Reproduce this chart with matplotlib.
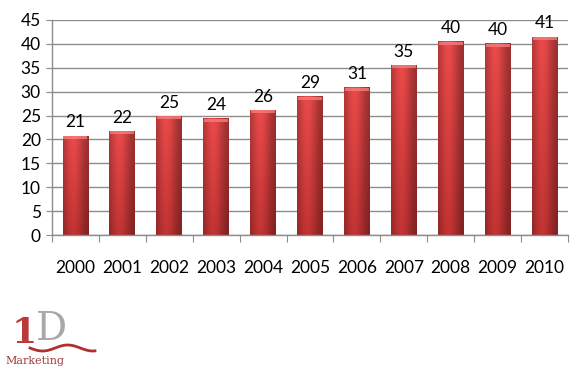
import numpy as np
import matplotlib
matplotlib.use("Agg")
import matplotlib.pyplot as plt

years = ["2000", "2001", "2002", "2003", "2004", "2005", "2006", "2007", "2008", "2009", "2010"]
values = [20.7, 21.7, 24.8, 24.3, 26.1, 28.9, 30.8, 35.5, 40.4, 40.0, 41.4]
labels = ["21", "22", "25", "24", "26", "29", "31", "35", "40", "40", "41"]

plt.rcParams['font.family'] = ['Lato', 'DejaVu Sans']

fig = plt.figure(figsize=(5.84, 3.73), dpi=100)
ax = fig.add_axes([52/584, 1-235/373, (568-52)/584, (235-20)/373])

n = len(years)
ax.set_yticks(np.arange(0, 46, 5))
ax.yaxis.grid(True, color="#8c8c8c", lw=1.0)
ax.set_axisbelow(True)
for s in ["top", "right"]:
    ax.spines[s].set_visible(False)
for s in ["left", "bottom"]:
    ax.spines[s].set_color("#8c8c8c")
    ax.spines[s].set_linewidth(1.0)

ax.set_xticks(np.arange(0, n + 1))
ax.set_xticklabels([])
ax.set_xticks(np.arange(n) + 0.5, minor=True)
ax.set_xticklabels(years, minor=True, fontsize=12.5)
ax.tick_params(axis="x", which="major", length=5, color="#8c8c8c", direction="out")
ax.tick_params(axis="x", which="minor", length=0, pad=18)
ax.tick_params(axis="y", length=4, color="#8c8c8c", labelsize=12.5, pad=4)

# gradient image for bars
w = 64
h = 256
xs = np.linspace(0, 1, w)
prof = 0.62 + 0.38 * np.exp(-((xs - 0.40) / 0.40) ** 2)
base_top = np.array([0.92, 0.29, 0.29])
base_bot = np.array([0.76, 0.20, 0.20])
ys = np.linspace(0, 1, h)[:, None]
base = base_top[None, None, :] * (1 - ys[..., None]) + base_bot[None, None, :] * ys[..., None]
img = np.clip(base * prof[None, :, None], 0, 1)

bw = 0.55
for i, v in enumerate(values):
    x0 = i + 0.5 - bw / 2
    ax.imshow(img, extent=[x0, x0 + bw, 0, v], aspect="auto", zorder=2, interpolation="bilinear")
    bev = 0.6
    top = np.clip(np.array([0.95, 0.45, 0.45])[None, None, :] * (0.85 + 0.15 * prof[None, :, None]) * np.ones((4, w, 1)), 0, 1)
    ax.imshow(top, extent=[x0 + 0.02, x0 + bw - 0.02, v - bev, v], aspect="auto", zorder=3, interpolation="bilinear")
    ax.text(i + 0.5, v + 1.2, labels[i], ha="center", va="bottom", fontsize=12.5, color="black", zorder=4)

ax.set_xlim(0, n)
ax.set_ylim(0, 45)

# logo
lax = fig.add_axes([0, 0, 110/584, 80/373])
lax.set_xlim(0, 110)
lax.set_ylim(80, 0)
lax.axis("off")
lax.text(5, 68, "Marketing", family="DejaVu Serif", fontsize=8, color="#a23a3a", va="center", ha="left")
lax.text(12, 40, "1", family="DejaVu Serif", fontsize=26, color="#b83a3a", va="center", ha="left", fontweight="bold")
lax.text(36, 36, "D", family="DejaVu Serif", fontsize=28, color="#a8a8a8", va="center", ha="left")
xw = np.linspace(30, 95, 50)
yw = 55 + 3 * np.sin((xw - 30) / 8)
lax.plot(xw, yw, color="#b03030", lw=2)

fig.savefig("out.png", dpi=100)
